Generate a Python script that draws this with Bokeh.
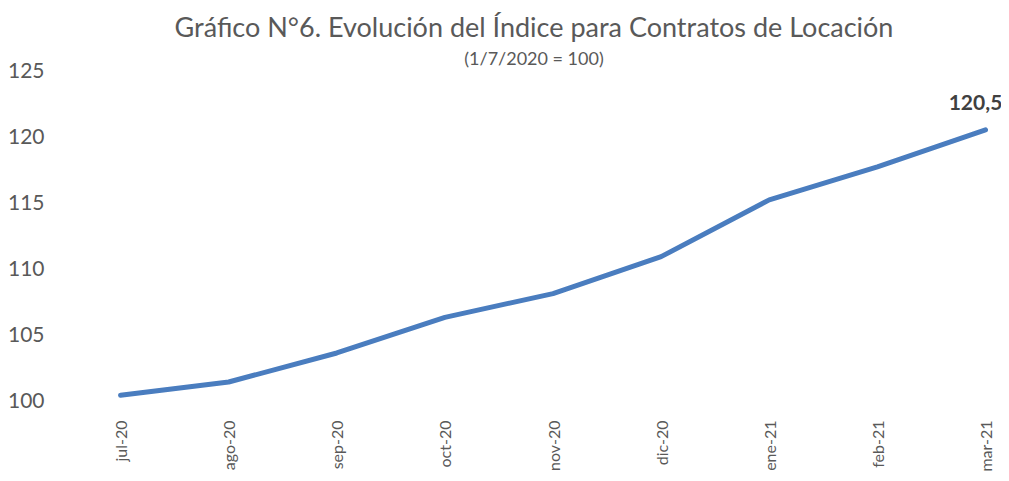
import math
from bokeh.plotting import figure
from bokeh.models import FixedTicker, Title, Label, Range1d
from bokeh.embed import file_html
from bokeh.resources import INLINE

months = ["jul-20", "ago-20", "sep-20", "oct-20", "nov-20", "dic-20", "ene-21", "feb-21", "mar-21"]
index_values = [100.4, 101.4, 103.6, 106.3, 108.1, 110.9, 115.2, 117.7, 120.5]
y_ticks = [100, 105, 110, 115, 120, 125]
last_label = "120,5"

FONT = "Lato"
GREY = "#595959"

xs = list(range(len(months)))

p = figure(width=1001, height=474, output_backend="svg", toolbar_location=None,
           x_range=Range1d(-0.5, 8.148), y_range=Range1d(100, 125),
           min_border_left=66, min_border_right=0, min_border_top=70, min_border_bottom=0)

p.add_layout(Title(text="(1/7/2020 = 100)", align="center", text_font=FONT,
                   text_font_size="18px", text_color=GREY, text_font_style="normal",
                   standoff=3, offset=0), "above")
p.add_layout(Title(text="Gráfico N°6. Evolución del Índice para Contratos de Locación",
                   align="center", text_font=FONT, text_font_size="27px",
                   text_color=GREY, text_font_style="normal", standoff=2), "above")

p.line(xs, index_values, line_color="#4a7dbf", line_width=5, line_cap="round", line_join="round")

p.add_layout(Label(x=xs[-1], y=index_values[-1], text=last_label, text_align="center",
                   text_baseline="middle", x_offset=-10, y_offset=27, text_font=FONT,
                   text_font_size="21px", text_font_style="bold", text_color="#404040"))

p.xaxis.ticker = FixedTicker(ticks=xs)
p.xaxis.major_label_overrides = {i: m for i, m in enumerate(months)}
p.xaxis.major_label_orientation = math.pi / 2
p.xaxis.major_label_text_font = FONT
p.xaxis.major_label_text_font_size = "16px"
p.xaxis.major_label_text_color = GREY
p.xaxis.major_label_standoff = 20

p.yaxis.ticker = FixedTicker(ticks=y_ticks)
p.yaxis.major_label_text_font = FONT
p.yaxis.major_label_text_font_size = "21px"
p.yaxis.major_label_text_color = GREY
p.yaxis.major_label_standoff = 22

for ax in (p.xaxis, p.yaxis):
    ax.axis_line_color = None
    ax.major_tick_line_color = None
    ax.minor_tick_line_color = None
    ax.major_tick_out = 0
    ax.major_tick_in = 0

p.xgrid.grid_line_color = None
p.ygrid.grid_line_color = None
p.outline_line_color = None

open("out.html", "w").write(file_html(p, INLINE))
